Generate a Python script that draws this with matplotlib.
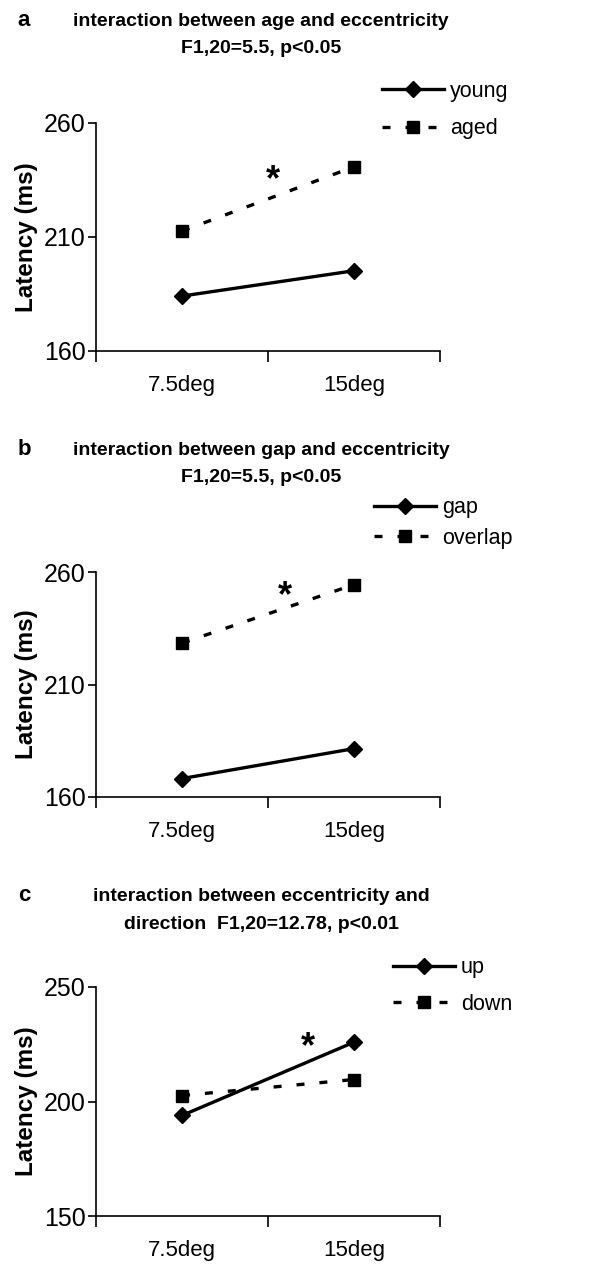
import matplotlib
matplotlib.use("Agg")
import matplotlib.pyplot as plt

plt.rcParams['font.family'] = ['Liberation Sans', 'DejaVu Sans']

conditions = ['7.5deg', '15deg']

# panel a
young = [184.1, 195.2]
aged = [212.6, 240.8]
# panel b
gap = [168.2, 181.5]
overlap = [228.4, 254.4]
# panel c
up = [193.9, 225.9]
down = [202.6, 209.6]

panels = [
    {'letter': 'a',
     'title': ['interaction between age and eccentricity', 'F1,20=5.5, p<0.05'],
     'solid': ('young', young), 'dashed': ('aged', aged),
     'yticks': [160, 210, 260], 'star': (0.53, 234.8)},
    {'letter': 'b',
     'title': ['interaction between gap and eccentricity', 'F1,20=5.5, p<0.05'],
     'solid': ('gap', gap), 'dashed': ('overlap', overlap),
     'yticks': [160, 210, 260], 'star': (0.6, 249.0)},
    {'letter': 'c',
     'title': ['interaction between eccentricity and', 'direction  F1,20=12.78, p<0.01'],
     'solid': ('up', up), 'dashed': ('down', down),
     'yticks': [150, 200, 250], 'star': (0.73, 223.4)},
]

W, H = 592, 1265


def fx(px):
    return px / W


def fy(py):
    return 1 - py / H


# pixel layout: (axis top, axis bottom, title baselines, legend left, legend mid, legend spacing)
layout = [
    (123, 351, (26, 53), 382, 110, 0.75),
    (572, 797, (455, 482), 374, 523, 0.45),
    (987, 1216, (901, 929), 393, 986, 0.7),
]

fig = plt.figure(figsize=(W / 100, H / 100), dpi=100)

for p, (top, bot, tb, lx, ly, lsp) in zip(panels, layout):
    ax = fig.add_axes([fx(96), fy(bot), fx(344), (bot - top) / H])
    xs = list(range(len(conditions)))
    name, vals = p['solid']
    ax.plot(xs, vals, color='black', lw=2.4, marker='D', ms=8.5, label=name)
    name, vals = p['dashed']
    ax.plot(xs, vals, color='black', lw=2.4, ls=(0, (2.4, 4.5)), marker='s',
            ms=8.5, label=name)
    sx, sy = p['star']
    ax.text(sx, sy, '*', fontsize=26, fontweight='bold', ha='center', va='center')

    ax.set_xlim(-0.5, 1.5)
    ax.set_ylim(p['yticks'][0], p['yticks'][-1])
    ax.set_yticks(p['yticks'])
    ax.set_xticks(xs)
    ax.set_xticklabels(conditions)
    ax.set_xticks([-0.5, 0.5, 1.5], minor=True)
    ax.tick_params(axis='x', which='major', length=0, pad=17, labelsize=16)
    ax.tick_params(axis='x', which='minor', length=8, width=1.2, direction='out')
    ax.tick_params(axis='y', length=6, width=1.2, pad=1.5, labelsize=18)
    for s in ['top', 'right']:
        ax.spines[s].set_visible(False)
    for s in ['left', 'bottom']:
        ax.spines[s].set_linewidth(1.2)
    ax.set_ylabel('Latency (ms)', fontsize=17.5, fontweight='bold')
    ax.yaxis.set_label_coords(-0.17, 0.5)

    ax.legend(loc='center left', bbox_to_anchor=(fx(lx), fy(ly)),
              bbox_transform=fig.transFigure, frameon=False, fontsize=15.5,
              borderaxespad=0, borderpad=0, handlelength=2.9,
              handletextpad=0.25, labelspacing=lsp)

    fig.text(fx(24), fy(tb[0]), p['letter'], fontsize=16, fontweight='bold',
             ha='center', va='baseline')
    fig.text(fx(261), fy(tb[0]), p['title'][0], fontsize=14, fontweight='bold',
             ha='center', va='baseline')
    fig.text(fx(261), fy(tb[1]), p['title'][1], fontsize=14, fontweight='bold',
             ha='center', va='baseline')

fig.savefig('out.png', dpi=100)
